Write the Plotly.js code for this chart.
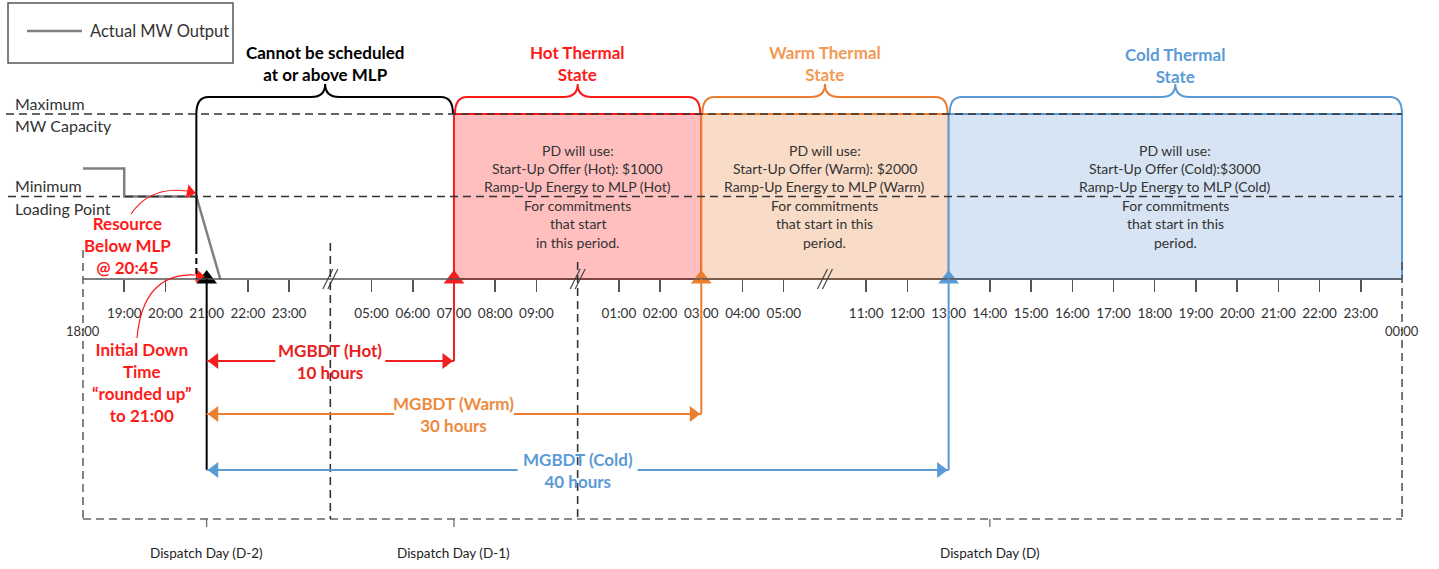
<!DOCTYPE html>
<html>
<head>
<meta charset="utf-8">
<script src="https://cdn.plot.ly/plotly-3.0.1.min.js"></script>
<style>html,body{margin:0;padding:0;background:#fff;}#chart{width:1439px;height:569px;}</style>
</head>
<body>
<div id="chart"></div>
<script>
// ---------- DATA ----------
const tickSlots = [1,2,3,4,5,7,8,9,10,11,13,14,15,16,17,19,20,21,22,23,24,25,26,27,28,29,30,31];
const tickLabels = ['19:00','20:00','21:00','22:00','23:00','05:00','06:00','07:00','08:00','09:00',
  '01:00','02:00','03:00','04:00','05:00','11:00','12:00','13:00','14:00','15:00','16:00','17:00',
  '18:00','19:00','20:00','21:00','22:00','23:00'];
const edgeSlots = [0, 32];
const edgeLabels = ['18:00', '00:00'];
const breakSlots = [6, 12, 18];

const stateTitles = ['Cannot be scheduled<br>at or above MLP', 'Hot Thermal<br>State', 'Warm Thermal<br>State', 'Cold Thermal<br>State'];
const stateStart = [2.75, 9, 15, 21];
const stateEnd = [9, 15, 21, 32];
const stateText = [
  [],
  ['PD will use:', 'Start-Up Offer (Hot): $1000', 'Ramp-Up Energy to MLP (Hot)', 'For commitments', 'that start', 'in this period.'],
  ['PD will use:', 'Start-Up Offer (Warm): $2000', 'Ramp-Up Energy to MLP (Warm)', 'For commitments', 'that start in this', 'period.'],
  ['PD will use:', 'Start-Up Offer (Cold):$3000', 'Ramp-Up Energy to MLP (Cold)', 'For commitments', 'that start in this', 'period.']
];

const mgbdtNames = ['MGBDT (Hot)', 'MGBDT (Warm)', 'MGBDT (Cold)'];
const mgbdtHours = [10, 30, 40];
const mgbdtFrom = 3;          // 21:00 (initial down time rounded up)
const mgbdtTo = [9, 15, 21];  // 07:00, 03:00, 13:00

const outputSlots = [0, 1, 1, 2.75, 3.33];
const outputLevel = [1.34, 1.34, 1, 1, 0];
const maxCapacity = 2;
const minLoading = 1;

const dayNames = ['Dispatch Day (D-2)', 'Dispatch Day (D-1)', 'Dispatch Day (D)'];
const dayStart = [0, 6, 12];
const dayEnd = [6, 12, 32];

// ---------- STYLE / LAYOUT HELPERS ----------
const X = px => (px - 83) / 41.22;
const Y = py => (279 - py) / 82.5;
const SX = px => px / 41.22;
const SY = py => py / 82.5;
const FONT = 'Lato, "Open Sans", sans-serif';
const stateColors = ['#000000', '#FF1A1A', '#ED7D31', '#5B9BD5'];
const titleColors = ['#000000', '#FF1A1A', '#F29A54', '#5B9BD5'];
const fillColors = [null, '#FFBFBF', '#F9DCC8', '#D6E4F3'];
const arrowColors = ['#F02020', '#ED7D31', '#5B9BD5'];
const arrowTextColors = ['#E82020', '#EE8A40', '#5B9BD5'];
const arrowRowPx = [361, 414, 470];
const DASH = '8px,5px';

const shapes = [];
const annotations = [];
const traces = [];

// Coloured state regions
for (let i = 1; i < stateStart.length; i++) {
  shapes.push({type:'rect', xref:'x', yref:'y', x0:stateStart[i], x1:stateEnd[i], y0:0, y1:maxCapacity,
    fillcolor:fillColors[i], line:{color:stateColors[i], width:2}, layer:'below'});
}

// Braces
const yf = Y(97), yt = Y(84), rx = SX(12), rt = SX(14);
stateStart.forEach((x0, i) => {
  const x1 = stateEnd[i], m = (x0 + x1) / 2, yb = maxCapacity;
  const a = i === 0 ? 0 : SX(1), b = i === stateStart.length - 1 ? 0 : SX(1);
  const p = `M ${x0 + a},${yb} Q ${x0 + a},${yf} ${x0 + a + rx},${yf} L ${m - rt},${yf} Q ${m},${yf} ${m},${yt} ` +
            `Q ${m},${yf} ${m + rt},${yf} L ${x1 - b - rx},${yf} Q ${x1 - b},${yf} ${x1 - b},${yb}`;
  shapes.push({type:'path', xref:'x', yref:'y', path:p, line:{color:stateColors[i], width:2}});
  annotations.push({x:m, y:i === 3 ? Y(65) : Y(63), xref:'x', yref:'y', text:stateTitles[i], showarrow:false,
    font:{family:FONT, size:17, color:titleColors[i], weight:700}, align:'center', yanchor:'middle'});
  stateText[i].forEach((t, k) => {
    annotations.push({x:m, y:Y(150 + k * 18.4), xref:'x', yref:'y', text:t, showarrow:false,
      font:{family:FONT, size:14, color:'#333'}, yanchor:'middle'});
  });
});

// Black vertical at start of "cannot be scheduled"
shapes.push({type:'line', xref:'x', yref:'y', x0:stateStart[0], x1:stateStart[0], y0:maxCapacity, y1:Y(248), line:{color:'#000', width:2}});
shapes.push({type:'line', xref:'x', yref:'y', x0:stateStart[0], x1:stateStart[0], y0:Y(248), y1:0, line:{color:'#000', width:2, dash:'6px,4px'}});

// Max / MLP dashed lines
shapes.push({type:'line', xref:'x', yref:'y', x0:X(6), x1:edgeSlots[1], y0:maxCapacity, y1:maxCapacity, line:{color:'#333', width:1.6, dash:DASH}});
shapes.push({type:'line', xref:'x', yref:'y', x0:X(8), x1:edgeSlots[1], y0:minLoading, y1:minLoading, line:{color:'#333', width:1.6, dash:DASH}});

// Time axis line
shapes.push({type:'line', xref:'x', yref:'y', x0:edgeSlots[0], x1:edgeSlots[1], y0:0, y1:0, line:{color:'#555', width:1.5}});

// Break marks
breakSlots.forEach(s => {
  [-SX(2.5), SX(2.5)].forEach(d => {
    shapes.push({type:'line', xref:'x', yref:'y', x0:s + d - SX(5), x1:s + d + SX(5), y0:-SY(10), y1:SY(10), line:{color:'#444', width:1.2}});
  });
});

// Dispatch day dashed frame
const frameBottom = Y(519);
shapes.push({type:'line', xref:'x', yref:'y', x0:dayStart[0], x1:dayEnd[dayEnd.length-1], y0:frameBottom, y1:frameBottom, line:{color:'#666', width:1.6, dash:DASH}});
shapes.push({type:'line', xref:'x', yref:'y', x0:dayStart[0], x1:dayStart[0], y0:Y(250), y1:frameBottom, line:{color:'#666', width:1.6, dash:DASH}});
shapes.push({type:'line', xref:'x', yref:'y', x0:dayEnd[2], x1:dayEnd[2], y0:Y(262), y1:frameBottom, line:{color:'#555', width:1.6, dash:DASH}});
shapes.push({type:'line', xref:'x', yref:'y', x0:dayStart[1], x1:dayStart[1], y0:Y(243), y1:frameBottom, line:{color:'#333', width:1.6, dash:DASH}});
shapes.push({type:'line', xref:'x', yref:'y', x0:dayStart[2], x1:dayStart[2], y0:Y(262), y1:frameBottom, line:{color:'#333', width:1.6, dash:DASH}});
dayNames.forEach((d, i) => {
  const c = (dayStart[i] + dayEnd[i]) / 2;
  shapes.push({type:'line', xref:'x', yref:'y', x0:c, x1:c, y0:frameBottom, y1:Y(527), line:{color:'#666', width:1.2}});
  annotations.push({x:c, y:Y(553), xref:'x', yref:'y', text:d, showarrow:false, font:{family:FONT, size:13.5, color:'#222'}, yanchor:'middle'});
});

// Edge labels (18:00, 00:00)
edgeSlots.forEach((s, i) => {
  annotations.push({x:s, y:Y(331), xref:'x', yref:'y', text:edgeLabels[i], showarrow:false, font:{family:FONT, size:13, color:'#333'}, yanchor:'middle'});
});

// MGBDT arrows
shapes.push({type:'line', xref:'x', yref:'y', x0:mgbdtFrom, x1:mgbdtFrom, y0:0, y1:Y(arrowRowPx[2]), line:{color:'#000', width:2}});
mgbdtTo.forEach((to, i) => {
  const y = Y(arrowRowPx[i]);
  const mid = (mgbdtFrom + to) / 2;
  const g = SX(mgbdtNames[i].length * 5.0);
  shapes.push({type:'line', xref:'x', yref:'y', x0:mgbdtFrom, x1:mid - g, y0:y, y1:y, line:{color:arrowColors[i], width:2}});
  shapes.push({type:'line', xref:'x', yref:'y', x0:mid + g, x1:to, y0:y, y1:y, line:{color:arrowColors[i], width:2}});
  shapes.push({type:'line', xref:'x', yref:'y', x0:to, x1:to, y0:0, y1:y, line:{color:arrowColors[i], width:2}});
  annotations.push({x:mid, y:y, xref:'x', yref:'y', text:`${mgbdtNames[i]}<br>${mgbdtHours[i]} hours`, showarrow:false,
    font:{family:FONT, size:17, color:arrowTextColors[i], weight:700}, yanchor:'middle'});
  traces.push({x:[mgbdtFrom + SX(8), to - SX(8)], y:[y, y], mode:'markers', xaxis:'x', yaxis:'y',
    marker:{symbol:['triangle-left', 'triangle-right'], size:14, color:arrowColors[i]}, hoverinfo:'skip'});
});

// Arrival triangles on the axis
traces.push({x:[mgbdtFrom].concat(mgbdtTo), y:[0, 0, 0, 0], mode:'markers', hoverinfo:'skip',
  marker:{symbol:'triangle-up', size:18, color:['#000'].concat(arrowColors)}});

// Actual MW output line
traces.push({x:outputSlots, y:outputLevel, mode:'lines', line:{color:'#808080', width:2.5}, hoverinfo:'skip'});

// Red notes with curved arrows
shapes.push({type:'path', xref:'x', yref:'y', line:{color:'#FF1A1A', width:1.2},
  path:`M ${X(131)},${Y(214)} Q ${X(150)},${Y(186)} ${X(187)},${Y(191)}`});
shapes.push({type:'path', xref:'x', yref:'y', line:{color:'#FF1A1A', width:1.2},
  path:`M ${X(137)},${Y(338)} Q ${X(143)},${Y(272)} ${X(196)},${Y(275)}`});
traces.push({x:[X(190), X(199)], y:[Y(192), Y(276)], mode:'markers', hoverinfo:'skip',
  marker:{symbol:'triangle-right', size:12, color:'#FF1A1A', angle:[12, 4]}});
annotations.push({x:X(127), y:Y(245), xref:'x', yref:'y', text:'Resource<br>Below MLP<br>@ 20:45', showarrow:false,
  font:{family:FONT, size:17, color:'#FF1A1A', weight:700}, yanchor:'middle'});
annotations.push({x:X(142), y:Y(382), xref:'x', yref:'y', text:'Initial Down<br>Time<br>“rounded up”<br>to 21:00', showarrow:false,
  font:{family:FONT, size:17, color:'#FF1A1A', weight:700}, yanchor:'middle'});

// Left level labels
[['Maximum', 103], ['MW Capacity', 125], ['Minimum', 185], ['Loading Point', 208]].forEach(([t, py]) => {
  annotations.push({x:X(13), y:Y(py), xref:'x', yref:'y', text:t, showarrow:false, xanchor:'left', yanchor:'middle',
    font:{family:FONT, size:16, color:'#333'}});
});

// Legend box
shapes.push({type:'rect', xref:'x', yref:'y', x0:X(8), x1:X(233), y0:Y(3), y1:Y(63), line:{color:'#555', width:1.5}, fillcolor:'rgba(0,0,0,0)'});
shapes.push({type:'line', xref:'x', yref:'y', x0:X(27), x1:X(82), y0:Y(31), y1:Y(31), line:{color:'#808080', width:2.5}});
annotations.push({x:X(88), y:Y(31), xref:'x', yref:'y', text:'Actual MW Output', showarrow:false, xanchor:'left', yanchor:'middle',
  font:{family:FONT, size:16.5, color:'#333'}});

const layout = {
  width:1439, height:569, margin:{l:0, r:0, t:0, b:0},
  paper_bgcolor:'#fff', plot_bgcolor:'#fff', showlegend:false,
  xaxis:{range:[X(0), X(1439)], anchor:'free', position:1 - 279/569, showgrid:false, zeroline:false, showline:false,
    ticks:'outside', ticklen:12, tickwidth:1.5, tickcolor:'#555', tickvals:tickSlots, ticktext:tickLabels,
    tickfont:{family:FONT, size:13.5, color:'#333'}, ticklabelstandoff:10, fixedrange:true},
  yaxis:{range:[Y(569), Y(0)], visible:false, fixedrange:true},
  shapes:shapes, annotations:annotations
};
traces.forEach(t => t.showlegend = false);
Plotly.newPlot('chart', traces, layout, {displayModeBar:false, staticPlot:true});
</script>
</body>
</html>
